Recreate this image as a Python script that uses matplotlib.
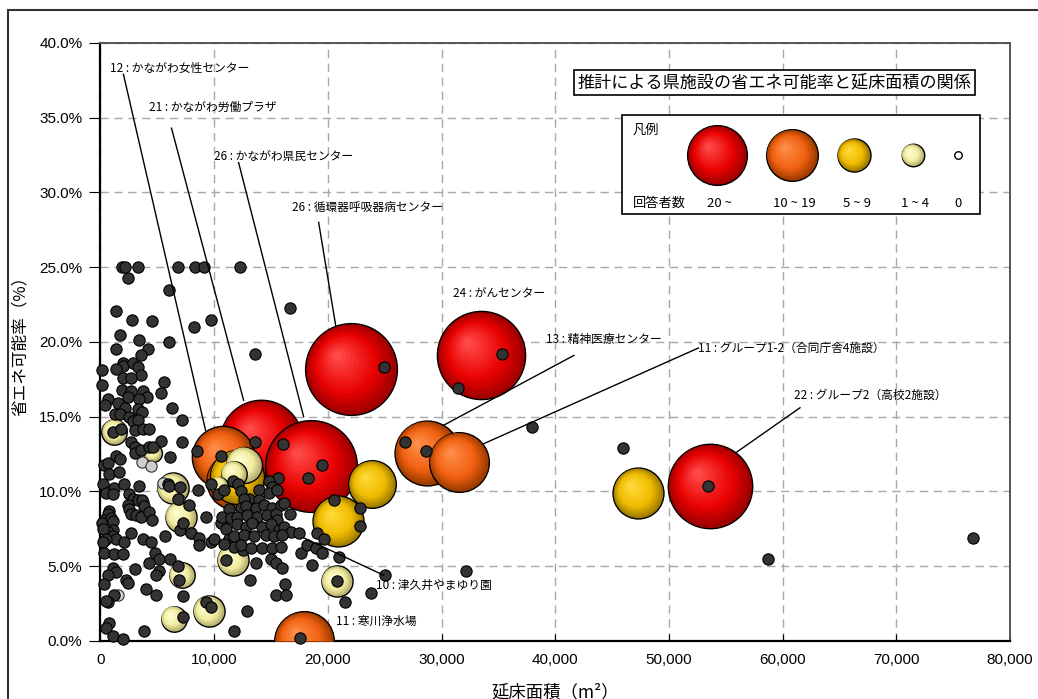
import numpy as np
import matplotlib
matplotlib.use('Agg')
import matplotlib.pyplot as plt
from matplotlib import transforms
from matplotlib.patches import Rectangle
from matplotlib.colors import to_rgb
from matplotlib.ticker import FuncFormatter, MultipleLocator

plt.rcParams['font.family'] = ['Noto Sans CJK JP', 'DejaVu Sans']

# facilities grouped by number of respondents (bubble area ~ respondents)
red_area = [14100, 18500, 22000, 33450, 53600]
red_rate = [13.4, 11.7, 18.2, 19.1, 10.4]
red_n = [21, 26, 26, 24, 22]

orange_area = [10800, 11800, 28700, 31500, 17900]
orange_rate = [12.3, 10.7, 12.6, 12.0, 0.0]
orange_n = [12, 10, 13, 11, 11]

yellow_area = [23900, 20900, 47300, 12000]
yellow_rate = [10.5, 8.0, 9.9, 11.0]
yellow_n = [7, 8, 8, 9]

light_area = [1230, 4580, 6340, 7040, 7130, 6430, 9510, 11620, 20780, 12590, 11710, 10390]
light_rate = [14.0, 12.6, 10.2, 8.3, 4.4, 1.5, 2.0, 5.4, 4.0, 11.8, 11.2, 10.4]
light_n = [2, 1, 3, 3, 2, 2, 3, 3, 3, 4, 2, 1]

# individual estimates
gray_area = [3610, 4400, 3700, 1580, 5460, 7920, 6870]
gray_rate = [12.0, 11.7, 9.3, 3.1, 10.6, 7.2, 9.5]

pt_area = [
    1870, 2140, 3260, 6780, 8300, 9070, 12300, 2460, 5990, 1350, 2760, 4520, 9680, 8250,
    1700, 3350, 6050, 1350, 4140, 3550, 13620, 110, 1940, 2020, 2820, 3260, 1350, 3550,
    2000, 2670, 110, 5610, 1870, 2670, 2380, 3760, 4080, 3410, 5310, 620, 380, 1500,
    2170, 1290, 1700, 2530, 3260, 3640, 6250, 2820, 3320, 7160, 3050, 3700, 4230, 1120,
    1790, 5310, 7160, 2670, 3020, 13620, 1350, 1700, 330, 620, 3050, 3550, 4230, 4580,
    6100, 8450, 10590, 770, 1650, 180, 470, 1210, 2090, 3350, 1060, 2530, 2820, 3260,
    3640, 2380, 3850, 5900, 6030, 7020, 6780, 7810, 8540, 9270, 770, 620, 330, 110,
    910, 1120, 2530, 2670, 3110, 3550, 4290, 4520, 1060, 620, 180, 1060, 1350, 470,
    180, 2090, 2670, 3760, 4430, 5700, 6980, 7280, 7950, 8690, 8690, 9710, 330, 1210,
    1940, 4820, 5170, 6100, 4290, 3050, 1060, 1350, 620, 5170, 4870, 330, 2230, 2460,
    3990, 4870, 7220, 6780, 6930, 1210, 620, 470, 9270, 9710, 7280, 3850, 12850, 11710,
    770, 470, 1060, 1940, 10590, 11030, 11330, 13670, 11770, 12500, 11030, 9710, 10300, 10890,
    11620, 12060, 12350, 13090, 13970, 16050, 19450, 18280, 15610, 14820, 15110, 14820, 15550, 12610,
    13930, 11290, 10710, 11440, 12320, 12760, 13640, 14380, 15110, 15850, 16140, 12030, 12910, 13790,
    14670, 15410, 15550, 12030, 12760, 13350, 14230, 14970, 15700, 16140, 16730, 16660, 11730, 12610,
    13500, 14520, 15260, 15990, 9970, 10850, 12320, 13200, 14230, 15110, 15850, 17460, 17610, 18200,
    18930, 19520, 20540, 22830, 22830, 19010, 19660, 14970, 15410, 16000, 18630, 20980, 13140, 16220,
    15410, 16350, 20780, 23770, 21480, 25030, 17540, 16660, 24940, 35360, 31490, 38000, 45930, 26790,
    28670, 53410, 58690, 76730, 32130,
]
pt_rate = [
    25.0, 25.0, 25.0, 25.0, 25.0, 25.0, 25.0, 24.3, 23.5, 22.1, 21.5, 21.4, 21.5, 21.0,
    20.5, 20.1, 20.0, 19.5, 19.5, 19.1, 19.2, 18.1, 18.6, 18.4, 18.6, 18.3, 18.2, 17.8,
    17.6, 17.6, 17.1, 17.3, 16.8, 16.7, 16.3, 16.7, 16.3, 16.2, 16.6, 16.2, 15.8, 15.9,
    15.6, 15.2, 15.2, 15.0, 15.5, 15.3, 15.6, 14.7, 14.8, 14.8, 14.1, 14.2, 14.2, 14.0,
    14.2, 13.4, 13.3, 13.3, 13.0, 13.3, 12.4, 12.2, 11.8, 11.9, 12.6, 12.8, 13.0, 13.0,
    12.3, 12.7, 12.4, 11.2, 11.3, 10.5, 9.9, 10.2, 10.5, 10.4, 9.8, 9.8, 9.5, 9.4,
    9.4, 9.1, 9.0, 10.5, 10.4, 10.3, 9.5, 9.1, 10.1, 8.3, 8.7, 8.5, 8.1, 7.9,
    8.2, 8.0, 8.8, 8.5, 8.4, 8.3, 8.6, 8.1, 7.4, 7.3, 7.5, 7.0, 6.8, 6.8,
    6.6, 6.6, 7.2, 6.8, 6.6, 7.0, 7.4, 7.9, 7.2, 6.9, 6.4, 6.6, 5.9, 5.8,
    5.8, 5.9, 5.5, 5.5, 5.2, 4.8, 4.9, 4.6, 4.4, 4.7, 4.4, 3.8, 4.1, 3.9,
    3.5, 3.1, 3.0, 5.0, 4.1, 3.1, 2.6, 2.7, 2.6, 2.3, 1.6, 0.7, 2.0, 0.7,
    1.2, 0.9, 0.3, 0.1, 7.9, 7.5, 6.8, 5.2, 6.3, 6.1, 5.4, 10.5, 9.8, 10.1,
    10.7, 10.5, 10.0, 9.5, 10.1, 13.2, 11.8, 10.9, 10.9, 10.7, 10.3, 9.9, 10.1, 9.5,
    9.4, 8.8, 8.3, 8.2, 8.9, 9.0, 8.9, 9.1, 8.9, 9.1, 9.2, 8.3, 8.4, 8.3,
    8.4, 8.5, 8.1, 7.8, 7.6, 7.9, 7.6, 7.8, 7.4, 7.6, 7.3, 8.5, 7.0, 7.1,
    7.0, 7.1, 7.0, 7.1, 6.8, 6.5, 6.4, 6.2, 6.2, 6.2, 6.3, 7.2, 5.9, 6.4,
    6.2, 5.9, 9.4, 8.9, 7.7, 7.2, 6.8, 5.5, 5.2, 4.9, 5.1, 5.6, 4.1, 3.8,
    3.1, 3.1, 4.0, 3.2, 2.6, 4.4, 0.2, 22.3, 18.3, 19.2, 16.9, 14.3, 12.9, 13.3,
    12.7, 10.4, 5.5, 6.9, 4.7,
]

# callouts: text, text anchor (area, rate), leader line start, leader line end
callouts = [
    ('12 : かながわ女性センター', (880, 38.3), (2020, 37.9), (9240, 14.1)),
    ('21 : かながわ労働プラザ', (4230, 35.7), (6250, 34.3), (12590, 16.1)),
    ('26 : かながわ県民センター', (9950, 32.4), (12150, 32.0), (17870, 15.0)),
    ('26 : 循環器呼吸器病センター', (16810, 29.0), (19190, 28.0), (20690, 21.1)),
    ('24 : がんセンター', (30990, 23.3), None, None),
    ('13 : 精神医療センター', (39170, 20.2), (41640, 19.1), (30110, 14.4)),
    ('11 : グループ1-2（合同庁舎4施設）', (52600, 19.6), (52600, 19.6), (33720, 13.2)),
    ('22 : グループ2（高校2施設）', (61000, 16.4), (61530, 15.6), (55900, 12.6)),
    ('10 : 津久井やまゆり園', (24210, 3.7), (24910, 4.4), (17870, 6.9)),
    ('11 : 寒川浄水場', (20690, 1.3), None, None),
]

legend_labels = ['20 ~', '10 ~ 19', '5 ~ 9', '1 ~ 4', '0']

RED = ('#a00000', '#e80000', '#ff4848')
ORANGE = ('#a03c00', '#f06010', '#ff8c48')
YELLOW = ('#a07c00', '#f0bc00', '#ffd838')
LIGHT = ('#b8b070', '#f0eca0', '#ffffd0')

PX = 0.72  # points per pixel at 100 dpi


def shade(stops, t):
    edge, mid, hi = [np.array(to_rgb(c)) for c in stops]
    if t < 0.35:
        return edge + (mid - edge) * (t / 0.35)
    return mid + (hi - mid) * ((t - 0.35) / 0.65)


def sphere(ax, x, y, r_pt, stops, zorder, transform=None, clip=True):
    base = transform if transform is not None else ax.transData
    layers = 14
    for i in range(layers):
        t = i / (layers - 1)
        rad = r_pt * (1 - 0.9 * t)
        shift = 0.28 * r_pt * t
        tr = transforms.offset_copy(base, fig=ax.figure, x=-shift, y=shift, units='points')
        ax.scatter([x], [y], s=(2 * rad) ** 2, color=shade(stops, t),
                   edgecolors='black' if i == 0 else 'none',
                   linewidths=1.0 if i == 0 else 0,
                   transform=tr, zorder=zorder, clip_on=clip)


def bubble_radius(n):
    return 9 * np.sqrt(n) * PX


fig = plt.figure(figsize=(10.38, 6.99), dpi=100)
ax = fig.add_axes([0.0968, 0.083, 0.8762, 0.8555])

for a, r, n in zip(red_area, red_rate, red_n):
    sphere(ax, a, r, bubble_radius(n), RED, 3)
for a, r, n in zip(orange_area, orange_rate, orange_n):
    sphere(ax, a, r, bubble_radius(n), ORANGE, 4)
for a, r, n in zip(yellow_area, yellow_rate, yellow_n):
    sphere(ax, a, r, bubble_radius(n), YELLOW, 5)
for a, r, n in zip(light_area, light_rate, light_n):
    sphere(ax, a, r, bubble_radius(n), LIGHT, 6)

ax.scatter(gray_area, gray_rate, s=66, color='#cfcfcf', edgecolors='#303030',
           linewidths=0.8, zorder=7)
ax.scatter(pt_area, pt_rate, s=66, color='#333333', edgecolors='black',
           linewidths=0.8, zorder=8, clip_on=False)

for text, pos, p0, p1 in callouts:
    ax.text(pos[0], pos[1], text, fontsize=8.5, ha='left', va='center', zorder=9)
    if p0 is not None:
        ax.plot([p0[0], p1[0]], [p0[1], p1[1]], color='black', lw=1, zorder=9)

ax.set_xlim(0, 80000)
ax.set_ylim(0, 40)
ax.xaxis.set_major_locator(MultipleLocator(10000))
ax.yaxis.set_major_locator(MultipleLocator(5))
ax.xaxis.set_major_formatter(FuncFormatter(lambda v, p: f'{int(v):,}'))
ax.yaxis.set_major_formatter(FuncFormatter(lambda v, p: f'{v:.1f}%'))
ax.tick_params(axis='x', direction='in', length=5, labelsize=11, pad=9,
               labelfontfamily='Liberation Sans')
ax.tick_params(axis='y', direction='out', length=8, labelsize=11, pad=5,
               labelfontfamily='Liberation Sans')

ax.grid(True, linestyle=(0, (6, 4)), color='#a8a8a8', lw=1)
ax.set_axisbelow(True)
for side in ['left', 'bottom']:
    ax.spines[side].set_color('black')
    ax.spines[side].set_linewidth(1.6)
for side in ['top', 'right']:
    ax.spines[side].set_color('#555555')
    ax.spines[side].set_linewidth(1.4)

ax.set_ylabel('省エネ可能率（%）', fontsize=12)
ax.yaxis.set_label_coords(-0.079, 0.5)
ax.set_xlabel('延床面積（m²）', fontsize=12.5)
ax.xaxis.set_label_coords(0.5, -0.07)

# title box
ax.text(0.741, 0.934, '推計による県施設の省エネ可能率と延床面積の関係', transform=ax.transAxes,
        fontsize=12.3, ha='center', va='center', zorder=12,
        bbox=dict(boxstyle='square,pad=0.2', fc='white', ec='black', lw=1.2))

# legend box
ax.add_patch(Rectangle((0.573, 0.7135), 0.394, 0.1665, transform=ax.transAxes,
                       fc='white', ec='black', lw=1.2, zorder=10))
leg_x = [0.678, 0.760, 0.828, 0.893, 0.9425]
leg_r = [21.5, 18.6, 11.9, 8.1]
for lx, rr, st in zip(leg_x, leg_r, [RED, ORANGE, YELLOW, LIGHT]):
    sphere(ax, lx, 0.8127, rr, st, 11, transform=ax.transAxes, clip=False)
ax.scatter([leg_x[4]], [0.8127], s=(2 * 2.7) ** 2, color='white', edgecolors='black',
           linewidths=1.0, transform=ax.transAxes, zorder=11, clip_on=False)
ax.text(0.5855, 0.8545, '凡例', transform=ax.transAxes, fontsize=9.5, ha='left', va='center', zorder=12)
ax.text(0.5855, 0.731, '回答者数', transform=ax.transAxes, fontsize=9.5, ha='left', va='center', zorder=12)
for lx, lab in zip([0.681, 0.7625, 0.8317, 0.8955, 0.943], legend_labels):
    ax.text(lx, 0.731, lab, transform=ax.transAxes, fontsize=9.5, ha='center', va='center', zorder=12)

# outer frame of the chart
fig.add_artist(Rectangle((8 / 1038, -0.2), 1.2, 1.2 - 10 / 699, transform=fig.transFigure,
                         fill=False, ec='#333333', lw=1.5))

fig.savefig('out.png', dpi=100)
